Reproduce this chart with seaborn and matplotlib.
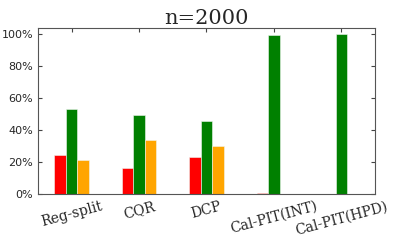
import pandas as pd
import matplotlib
matplotlib.use("Agg")
import matplotlib.pyplot as plt
import seaborn as sns
from matplotlib.ticker import PercentFormatter

methods = ["Reg-split", "CQR", "DCP", "Cal-PIT(INT)", "Cal-PIT(HPD)"]
under = [0.248, 0.162, 0.232, 0.008, 0.0]
covered = [0.530, 0.493, 0.460, 0.993, 1.0]
over = [0.214, 0.338, 0.302, 0.0, 0.0]
groups = ["under", "covered", "over"]
colors = ["red", "green", "orange"]

df = pd.DataFrame({
    "method": methods * 3,
    "group": [g for g in groups for _ in methods],
    "value": under + covered + over,
})

sns.set_style("ticks")
fig, ax = plt.subplots(figsize=(3.99, 2.49), dpi=100)
sns.barplot(data=df, x="method", y="value", hue="group", palette=colors,
            width=0.51, edgecolor="#f0f5f0", linewidth=0.4, saturation=1,
            legend=False, ax=ax)

ax.set_xlim(-0.5, 4.5)
ax.set_ylim(0, 1.04)
ax.set_yticks([0, 0.2, 0.4, 0.6, 0.8, 1.0])
ax.yaxis.set_major_formatter(PercentFormatter(1.0, decimals=0))
ax.set_xlabel("")
ax.set_ylabel("")
ax.set_title("n=2000", family="DejaVu Serif", fontsize=15, pad=3)
ax.tick_params(direction="in", top=True, right=True, labelsize=8,
               length=3, color="#444444")
for lab in ax.get_xticklabels():
    lab.set_family("DejaVu Serif")
    lab.set_fontsize(10)
    lab.set_rotation(15)
for s in ax.spines.values():
    s.set_color("#555555")
    s.set_linewidth(0.8)

fig.subplots_adjust(left=0.095, right=0.94, top=0.888, bottom=0.22)
fig.savefig("out.png", dpi=100)
